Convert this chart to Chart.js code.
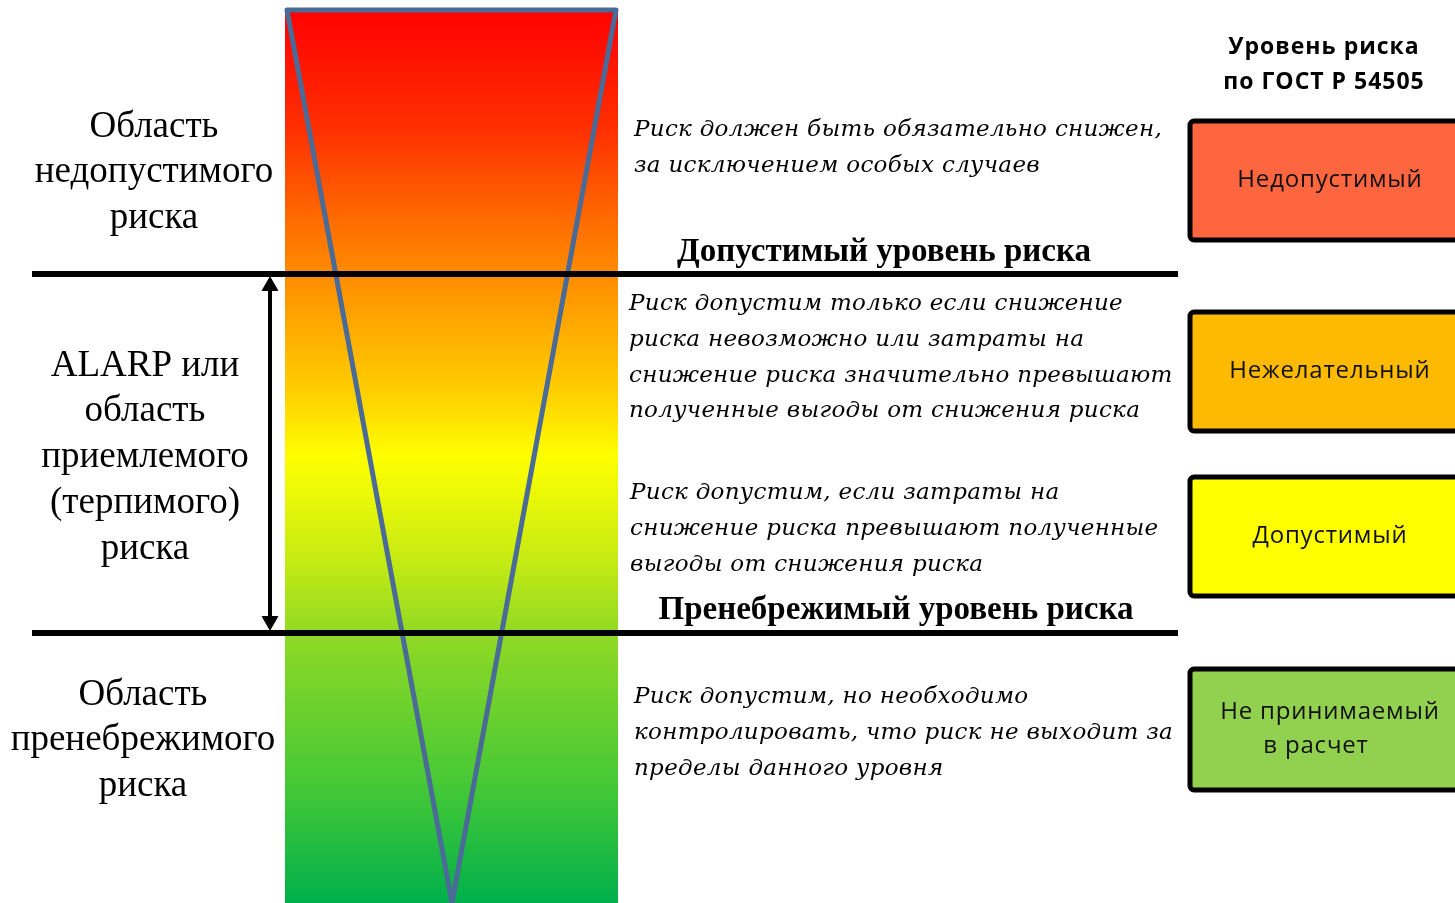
<!DOCTYPE html>
<html>
<head>
<meta charset="utf-8">
<script src="https://cdn.jsdelivr.net/npm/chart.js@4"></script>
<style>
  html, body { margin: 0; padding: 0; background: #fff; }
  #wrap { width: 1455px; height: 903px; }
</style>
</head>
<body>
<div id="wrap"><canvas id="riskChart" width="1455" height="903"></canvas></div>
<script>
// the diagram lives on a plain value grid: x 0..1455, y 0..903 (top -> bottom)

// zone borders (risk levels) and their names
let levelY = [274, 633];
let levelNames = ['Допустимый уровень риска', 'Пренебрежимый уровень риска'];
let levelNameY = [252, 610];
let levelNameX = [884, 896];

// the funnel: top edge, bottom apex
let funnelX = [285, 618, 452];
let funnelY = [10, 903];

// left column labels
let zoneLabels = [
  ['Область', 'недопустимого', 'риска'],
  ['ALARP или', 'область', 'приемлемого', '(терпимого)', 'риска'],
  ['Область', 'пренебрежимого', 'риска']
];
let zoneLabelX = [154, 145, 143];
let zoneLabelY = [127, 366, 695];

// middle column descriptions
let notes = [
  ['Риск должен быть обязательно снижен,', 'за исключением особых случаев'],
  ['Риск допустим только если снижение', 'риска невозможно или затраты на', 'снижение риска значительно превышают', 'полученные выгоды от снижения риска'],
  ['Риск допустим, если затраты на', 'снижение риска превышают полученные', 'выгоды от снижения риска'],
  ['Риск допустим, но необходимо', 'контролировать, что риск не выходит за', 'пределы данного уровня']
];
let noteX = [634, 629, 630, 634];
let noteY = [130, 304, 493, 697];

// right column: GOST levels
let gostTitle = ['Уровень риска', 'по ГОСТ Р 54505'];
let boxLabels = [['Недопустимый'], ['Нежелательный'], ['Допустимый'], ['Не принимаемый', 'в расчет']];
let boxColors = ['#fe663f', '#fdba00', '#ffff00', '#92d050'];
let boxTop = [121, 312, 477, 669];
let boxBottom = [240, 431, 596, 790];

// arrow between the two levels
let arrowX = 270;

function bandGradient(context) {
  const chart = context.chart;
  const area = chart.chartArea;
  if (!area) return '#ff0000';
  const ys = chart.scales.y;
  const g = chart.ctx.createLinearGradient(0, ys.getPixelForValue(funnelY[0]), 0, ys.getPixelForValue(funnelY[1]));
  g.addColorStop(0.00, '#ff0000');
  g.addColorStop(0.13, '#ff2e00');
  g.addColorStop(0.25, '#ff7400');
  g.addColorStop(0.33, '#ff9d00');
  g.addColorStop(0.43, '#ffd000');
  g.addColorStop(0.50, '#ffff00');
  g.addColorStop(0.61, '#c9ec12');
  g.addColorStop(0.70, '#8fd924');
  g.addColorStop(0.87, '#45c836');
  g.addColorStop(1.00, '#00b04c');
  return g;
}

const textPlugin = {
  id: 'riskText',
  afterDatasetsDraw(chart) {
    const ctx = chart.ctx;
    const xs = chart.scales.x, ys = chart.scales.y;
    const px = v => xs.getPixelForValue(v);
    const py = v => ys.getPixelForValue(v);
    ctx.save();
    ctx.textBaseline = 'middle';
    ctx.fillStyle = '#000';

    // boxes
    boxLabels.forEach((lines, i) => {
      ctx.beginPath();
      ctx.roundRect(px(1190), py(boxTop[i]), px(1470) - px(1190), py(boxBottom[i]) - py(boxTop[i]), 4);
      ctx.fillStyle = boxColors[i];
      ctx.fill();
      ctx.lineWidth = 5;
      ctx.strokeStyle = '#000';
      ctx.stroke();
      ctx.fillStyle = '#111';
      ctx.font = '24px "Open Sans"';
      ctx.letterSpacing = '0.8px';
      ctx.textAlign = 'center';
      const mid = (boxTop[i] + boxBottom[i]) / 2;
      lines.forEach((t, j) => {
        const off = (j - (lines.length - 1) / 2) * 34;
        ctx.fillText(t, px(j === 1 ? 1316 : 1330), py(mid + off));
      });
    });

    // GOST title
    ctx.fillStyle = '#000';
    ctx.font = 'bold 23px "Open Sans"';
    ctx.letterSpacing = '1px';
    ctx.textAlign = 'center';
    gostTitle.forEach((t, j) => ctx.fillText(t, px(1324), py(47 + j * 35)));

    // left zone labels
    ctx.font = '37px "Liberation Serif"';
    ctx.letterSpacing = '0px';
    zoneLabels.forEach((lines, i) => {
      lines.forEach((t, j) => ctx.fillText(t, px(zoneLabelX[i]), py(zoneLabelY[i] + j * 45.7)));
    });

    // level names
    ctx.font = 'bold 33px "Liberation Serif"';
    levelNames.forEach((t, i) => ctx.fillText(t, px(levelNameX[i]), py(levelNameY[i])));

    // notes
    ctx.font = 'italic 23px "DejaVu Serif"';
    ctx.letterSpacing = '0.3px';
    ctx.textAlign = 'left';
    notes.forEach((lines, i) => {
      lines.forEach((t, j) => ctx.fillText(t, px(noteX[i]), py(noteY[i] + j * 35.8)));
    });
    ctx.restore();
  }
};

const datasets = [
  {
    label: 'band',
    order: 10,
    data: [{x: funnelX[0], y: funnelY[0]}, {x: funnelX[1], y: funnelY[0]}],
    borderWidth: 0,
    borderColor: 'rgba(0,0,0,0)',
    backgroundColor: bandGradient,
    fill: {value: funnelY[1]},
    pointRadius: 0
  },
  {
    label: 'funnel',
    order: 5,
    data: [
      {x: funnelX[2], y: funnelY[1]},
      {x: funnelX[0] + 2, y: funnelY[0]},
      {x: funnelX[1] - 2, y: funnelY[0]},
      {x: funnelX[2], y: funnelY[1]}
    ],
    borderColor: '#4a6a98',
    borderWidth: 5,
    borderJoinStyle: 'round',
    fill: false,
    pointRadius: 0
  }
];

levelY.forEach(v => {
  datasets.push({
    label: 'level',
    order: 1,
    data: [{x: 32, y: v}, {x: 1178, y: v}],
    borderColor: '#000',
    borderWidth: 6,
    fill: false,
    pointRadius: 0
  });
});

datasets.push({
  label: 'arrow',
  order: 1,
  data: [{x: arrowX, y: levelY[0] + 12}, {x: arrowX, y: levelY[1] - 12}],
  borderColor: '#000',
  borderWidth: 4,
  fill: false,
  pointStyle: 'triangle',
  pointRadius: 9,
  pointRotation: [0, 180],
  pointBackgroundColor: '#000',
  pointBorderColor: '#000',
  pointBorderWidth: 1
});

new Chart(document.getElementById('riskChart'), {
  type: 'scatter',
  data: { datasets: datasets },
  options: {
    responsive: false,
    animation: false,
    showLine: true,
    layout: { padding: 0, autoPadding: false },
    plugins: { legend: { display: false }, tooltip: { enabled: false } },
    elements: { line: { tension: 0 } },
    scales: {
      x: { type: 'linear', min: 0, max: 1455, display: false },
      y: { type: 'linear', min: 0, max: 903, reverse: true, display: false }
    }
  },
  plugins: [textPlugin]
});
</script>
</body>
</html>
